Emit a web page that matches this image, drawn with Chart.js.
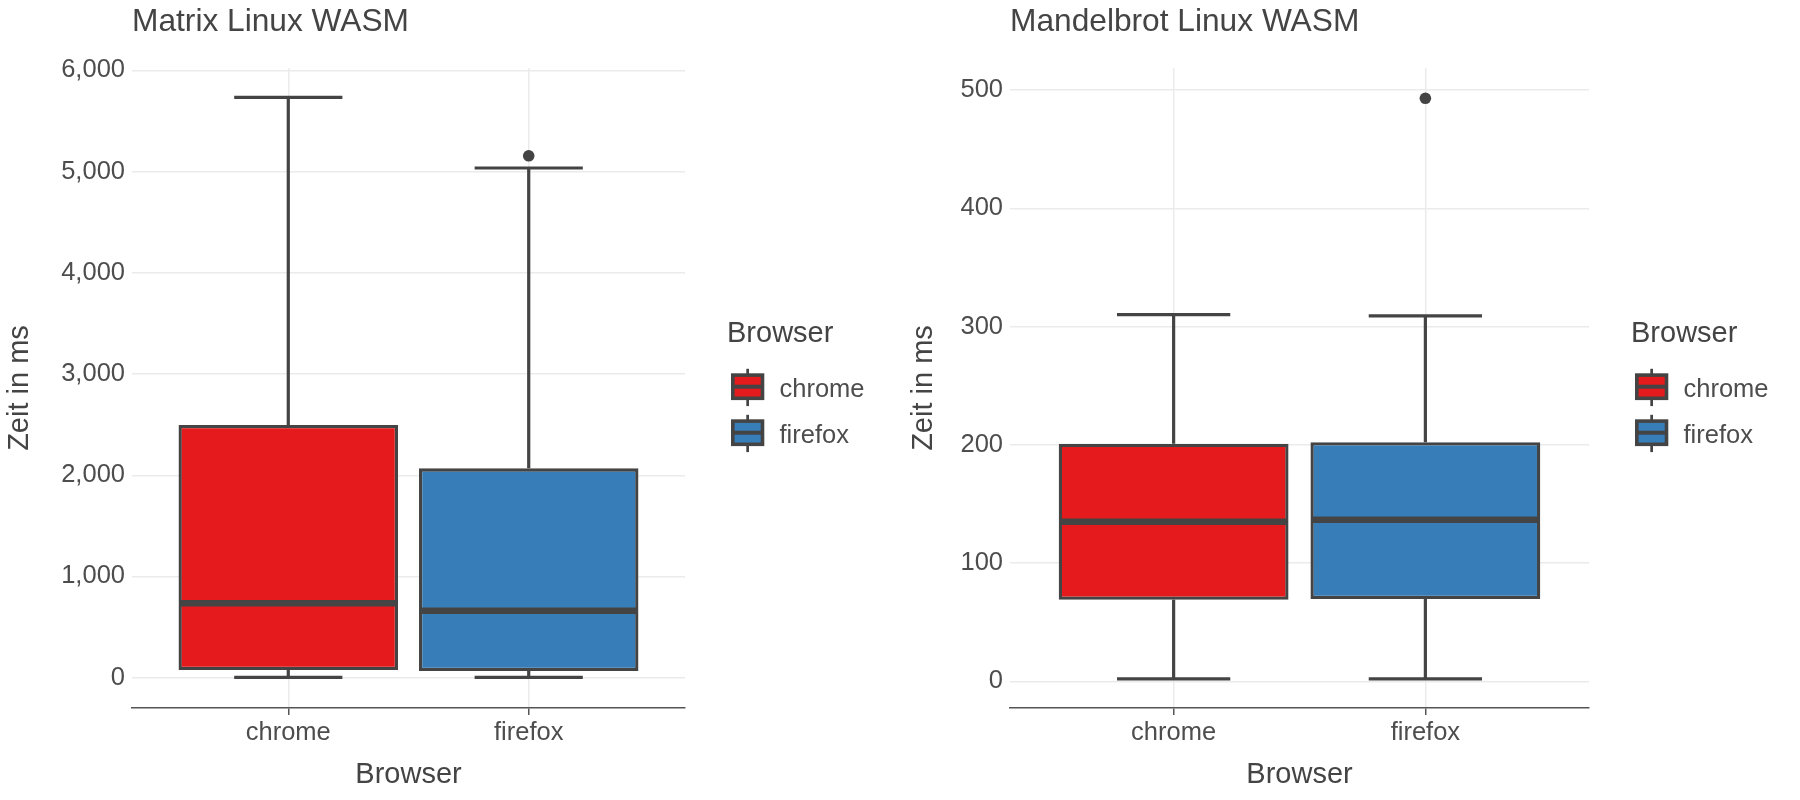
<!DOCTYPE html>
<html><head><meta charset="utf-8">
<script src="https://cdn.jsdelivr.net/npm/chart.js"></script>
<style>
html,body{margin:0;padding:0;background:#fff;}
#wrap{position:relative;width:1800px;height:800px;overflow:hidden;background:#fff;}
.panel{position:absolute;top:0;width:900px;height:800px;}
canvas{display:block;}
</style></head><body>
<div id="wrap">
<div class="panel" style="left:0"><canvas id="c1" width="900" height="800"></canvas></div>
<div class="panel" style="left:900px"><canvas id="c2" width="900" height="800"></canvas></div>
</div>
<script>
// ---------- data ----------
const categories = ['chrome', 'firefox'];
const boxColors = ['#E41A1C', '#377EB8'];

const matrixTitle = 'Matrix Linux WASM';
const matrixLow = [3, 3];
const matrixQ1 = [75, 65];
const matrixMedian = [734, 661];
const matrixQ3 = [2496, 2068];
const matrixHigh = [5734, 5036];
const matrixOutliers = [[], [5157]];
const matrixTicks = [0, 1000, 2000, 3000, 4000, 5000, 6000];

const mandelTitle = 'Mandelbrot Linux WASM';
const mandelLow = [2, 2];
const mandelQ1 = [69, 69.5];
const mandelMedian = [135, 136.6];
const mandelQ3 = [200.9, 202.2];
const mandelHigh = [310, 309];
const mandelOutliers = [[], [493]];
const mandelTicks = [0, 100, 200, 300, 400, 500];

const yTitle = 'Zeit in ms';
const xTitle = 'Browser';
const legendTitle = 'Browser';

// ---------- styling ----------
const FONT = '"Liberation Sans", Arial, Helvetica, sans-serif';
const LINE = '#444444';
const TEXT = '#4d4d4d';
const TITLE = '#444444';
const GRID = '#EBEBEB';
const BOX_HALF = 0.45, CAP_HALF = 0.225;

Chart.defaults.font.family = FONT;
Chart.defaults.color = TEXT;

function legendPlugin() {
  return {
    id: 'boxLegend',
    afterDraw(chart) {
      const ctx = chart.ctx, a = chart.chartArea;
      const x0 = a.right + 42;
      ctx.save();
      ctx.textAlign = 'left';
      ctx.textBaseline = 'alphabetic';
      ctx.fillStyle = TITLE;
      ctx.font = '29px ' + FONT;
      ctx.fillText(legendTitle, x0, 341.7);
      categories.forEach((c, i) => {
        const top = 373.3 + i * 46, kx = x0 + 4, w = 33.3, h = 26.8;
        ctx.strokeStyle = LINE;
        ctx.lineWidth = 2.7;
        ctx.beginPath();
        ctx.moveTo(kx + w / 2, top - 4.5);
        ctx.lineTo(kx + w / 2, top + h + 6);
        ctx.stroke();
        const lw = 3.6;
        ctx.fillStyle = boxColors[i];
        ctx.fillRect(kx + lw / 2, top + lw / 2, w - lw, h - lw);
        ctx.lineWidth = lw;
        ctx.strokeRect(kx + lw / 2, top + lw / 2, w - lw, h - lw);
        ctx.lineWidth = 4;
        ctx.beginPath();
        ctx.moveTo(kx + lw / 2, top + h / 2);
        ctx.lineTo(kx + w - lw / 2, top + h / 2);
        ctx.stroke();
        ctx.fillStyle = TEXT;
        ctx.font = '25.5px ' + FONT;
        ctx.fillText(c, x0 + 52.5, 397.3 + i * 45.6);
      });
      ctx.restore();
    }
  };
}

function makeChart(id, p) {
  const boxes = categories.map((c, i) => ({ x: i + 1, y: [p.q1[i], p.q3[i]] }));
  const whiskers = [];
  const medians = [];
  const outliers = [];
  categories.forEach((c, i) => {
    const x = i + 1;
    whiskers.push({ x, y: p.low[i] }, { x, y: p.q1[i] }, { x, y: null },
      { x, y: p.q3[i] }, { x, y: p.high[i] }, { x, y: null },
      { x: x - CAP_HALF, y: p.low[i] }, { x: x + CAP_HALF, y: p.low[i] }, { x, y: null },
      { x: x - CAP_HALF, y: p.high[i] }, { x: x + CAP_HALF, y: p.high[i] }, { x, y: null });
    medians.push({ x: x - BOX_HALF, y: p.med[i] }, { x: x + BOX_HALF, y: p.med[i] }, { x, y: null });
    p.out[i].forEach(v => outliers.push({ x, y: v }));
  });

  return new Chart(document.getElementById(id), {
    type: 'bar',
    data: {
      datasets: [
        { type: 'scatter', data: outliers, order: 0, pointRadius: 5.8, pointHoverRadius: 5.8,
          backgroundColor: LINE, borderWidth: 0 },
        { type: 'line', data: medians, order: 1, borderColor: LINE, borderWidth: 6.5,
          pointRadius: 0, spanGaps: false, tension: 0, borderCapStyle: 'butt', fill: false },
        { type: 'line', data: whiskers, order: 3, borderColor: LINE, borderWidth: 3.2,
          pointRadius: 0, spanGaps: false, tension: 0, borderCapStyle: 'butt', fill: false },
        { type: 'bar', data: boxes, order: 2, backgroundColor: boxColors, borderColor: LINE,
          borderWidth: 3.3, borderSkipped: false, barPercentage: 0.913, categoryPercentage: 1,
          inflateAmount: 0 }
      ]
    },
    options: {
      responsive: false,
      animation: false,
      events: [],
      devicePixelRatio: 1,
      layout: { padding: { left: 0, top: 0, bottom: 0, right: 900 - p.areaRight } },
      plugins: {
        legend: { display: false },
        tooltip: { enabled: false },
        title: {
          display: true, text: p.title, align: 'start', fullSize: false,
          color: TITLE, font: { size: 31.7, weight: 'normal', family: FONT },
          padding: { top: 3.4, bottom: 26.6 }
        }
      },
      scales: {
        x: {
          type: 'linear', min: 0.35, max: 2.65, offset: false,
          afterBuildTicks: s => { s.ticks = categories.map((c, i) => ({ value: i + 1 })); },
          afterFit: s => { s.height = 92; },
          ticks: { callback: v => categories[v - 1], font: { size: 25.5 }, color: TEXT, padding: 3,
                   maxRotation: 0, autoSkip: false },
          grid: { color: GRID, lineWidth: 1.5, drawTicks: true, tickLength: 7, tickColor: '#555',
                  tickWidth: 1.5, offset: false },
          border: { display: true, color: '#555', width: 1.5 },
          title: { display: true, text: xTitle, color: TITLE, font: { size: 29 },
                   padding: { top: 0, bottom: 8 } }
        },
        y: {
          type: 'linear', min: p.yMin, max: p.yMax, beginAtZero: false,
          afterBuildTicks: s => { s.ticks = p.ticks.map(v => ({ value: v })); },
          afterFit: s => { s.width = p.areaLeft; },
          ticks: { callback: v => v.toLocaleString('en-US'), font: { size: 25.5 }, color: TEXT,
                   padding: 7, autoSkip: false },
          grid: { color: GRID, lineWidth: 1.5, drawTicks: false },
          border: { display: false },
          title: { display: true, text: yTitle, color: TITLE, font: { size: 29 },
                   padding: { top: p.yTitlePad, bottom: 0 } }
        }
      }
    },
    plugins: [legendPlugin()]
  });
}

makeChart('c1', {
  title: matrixTitle, low: matrixLow, q1: matrixQ1, med: matrixMedian, q3: matrixQ3,
  high: matrixHigh, out: matrixOutliers, ticks: matrixTicks,
  yMin: -300, yMax: 6024, areaLeft: 132, areaRight: 685, yTitlePad: 3
});
makeChart('c2', {
  title: mandelTitle, low: mandelLow, q1: mandelQ1, med: mandelMedian, q3: mandelQ3,
  high: mandelHigh, out: mandelOutliers, ticks: mandelTicks,
  yMin: -22.6, yMax: 518.6, areaLeft: 110, areaRight: 689, yTitlePad: 7
});
</script>
</body></html>
